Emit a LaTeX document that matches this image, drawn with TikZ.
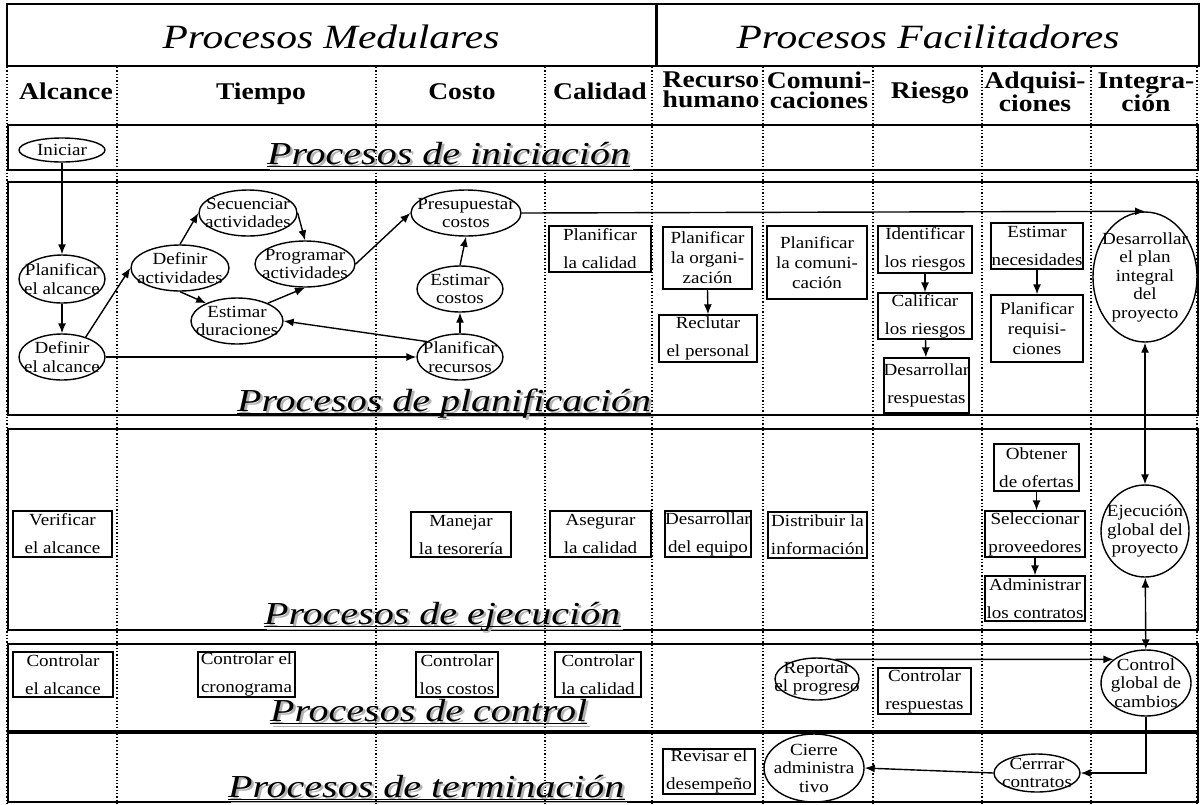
\documentclass[tikz,border=0pt]{standalone}
\usepackage{fontspec}
\setmainfont{Liberation Serif}
\newfontfamily\wideserif[FakeStretch=1.12]{Liberation Serif}
\newfontfamily\wideheads[FakeStretch=1.15]{Liberation Serif}
\newfontfamily\widetitle[FakeStretch=1.22]{Liberation Serif}
\newfontfamily\widephase[FakeStretch=1.25]{Liberation Serif}
\usetikzlibrary{shapes.geometric,arrows.meta,calc}

% a process: outline of fixed size (#3 x #4) at #2, its text laid over it
\newcommand\procell[5]{%
  \node[ellframe, minimum width=#3pt, minimum height=#4pt] (#1) at (#2) {};
  \node[elltxt] (#1-t) at (#1) {#5};}
\newcommand\procbox[5]{%
  \node[boxframe, minimum width=#3pt, minimum height=#4pt] (#1) at (#2) {};
  \node[boxtxt] (#1-t) at (#1) {#5};}
\newcommand\procboxiii[5]{%
  \node[boxframe, minimum width=#3pt, minimum height=#4pt] (#1) at (#2) {};
  \node[boxtxtiii] (#1-t) at (#1) {#5};}

\begin{document}
\begin{tikzpicture}[x=1pt,y=-1pt,
  ellframe/.style={draw, ellipse, line width=1.4pt, inner sep=0pt},
  boxframe/.style={draw, rectangle, line width=1.4pt, inner sep=0pt},
  elltxt/.style={inner sep=0pt, align=center, font=\wideserif\fontsize{17}{18.5}\selectfont},
  boxtxt/.style={inner sep=0pt, align=center, font=\wideserif\fontsize{17}{28}\selectfont},
  boxtxtiii/.style={inner sep=0pt, align=center, font=\wideserif\fontsize{17}{20}\selectfont},
  rowframe/.style={draw, line width=1.5pt},
  lane/.style={line width=1.3pt, dotted},
  arr/.style={line width=1.4pt, -{Latex[length=10pt,width=8pt]}},
  arrboth/.style={line width=1.4pt, {Latex[length=10pt,width=8pt]}-{Latex[length=10pt,width=8pt]}},
  head/.style={font=\wideheads\fontsize{24}{20}\selectfont\bfseries, inner sep=0pt, align=center},
  bigtitle/.style={font=\widetitle\fontsize{34}{34}\selectfont\itshape, inner sep=0pt},
  phase/.style={font=\widephase\fontsize{32}{32}\selectfont\itshape, inner sep=0pt, anchor=base west},
  phaseshadow/.style={phase, text=black!30},
  uline/.style={line width=1.4pt},
  ulineshadow/.style={line width=1.4pt, black!30}
]
\useasboundingbox (0,0) rectangle (1204,804);

% title bar
\draw[line width=1.5pt] (7,4) rectangle (1199,66);
\draw[line width=3pt] (656,4) -- (656,66);
\node[bigtitle, anchor=base] (tmed) at (331,48) {Procesos Medulares};
\node[bigtitle, anchor=base] (tfac) at (928,48) {Procesos Facilitadores};

% swim lanes
\foreach \lx in {7,117,376,545,652,763,873,982,1091,1197}
  \draw[lane] (\lx,67) -- (\lx,803);

% knowledge-area headings
\node[head, anchor=base] (hal) at (66,99) {Alcance};
\node[head, anchor=base] (hti) at (261,99) {Tiempo};
\node[head, anchor=base] (hco) at (462,99) {Costo};
\node[head, anchor=base] (hca) at (600,99) {Calidad};
\node[head, anchor=north] (hrh) at (711,72) {Recurso\\humano};
\node[head, anchor=north] (hcm) at (819,72) {Comuni-\\caciones};
\node[head, anchor=base] (hri) at (930,98) {Riesgo};
\node[head, anchor=north] (had) at (1035,72) {Adquisi-\\ciones};
\node[head, anchor=north] (hin) at (1146,73) {Integra-\\ción};

% process-group rows
\draw[rowframe] (8,125) rectangle (1198,170);
\draw[rowframe] (8,182) rectangle (1198,415);
\draw[rowframe] (8,429) rectangle (1198,630);
\draw[rowframe] (8,644) rectangle (1198,731);
\draw[rowframe] (8,733) rectangle (1198,802);

% row captions: grey drop shadow, then the underlined italic text
\foreach \nm/\px/\py/\txt in {pi/267/164/{Procesos de iniciación},
                             pp/237/411/{Procesos de planificación},
                             pe/264/624/{Procesos de ejecución},
                             pc/270/721/{Procesos de control},
                             pt/228/797/{Procesos de terminación}} {
  \node[phaseshadow] (\nm s) at (\px+2.5,\py+2.5) {\txt};
  \draw[ulineshadow] ($(\nm s.base west)+(0,3)$) -- ($(\nm s.base east)+(0,3)$);
  \node[phase] (\nm) at (\px,\py) {\txt};
  \draw[uline] ($(\nm.base west)+(0,2.5)$) -- ($(\nm.base east)+(0,2.5)$);
}

% initiation and planning
\procell{ini}{62,150}{86}{24}{Iniciar}
\procell{pa}{62,279}{86}{48}{Planificar\\el alcance}
\procell{da}{62,357}{86}{46}{Definir\\el alcance}
\procell{dact}{180,268}{98}{46}{Definir\\actividades}
\procell{sec}{248,213}{98}{46}{Secuenciar\\actividades}
\procell{prog}{305,264}{100}{46}{Programar\\actividades}
\procell{edur}{237,321}{92}{46}{Estimar\\duraciones}
\procell{pres}{466,213}{110}{46}{Presupuestar\\costos}
\procell{ecos}{460,289}{86}{46}{Estimar\\costos}
\procell{prec}{460,357}{86}{46}{Planificar\\recursos}
\procell{dplan}{1145,277}{104}{130}{Desarrollar\\el plan\\integral\\del\\proyecto}

\procbox{pcal}{600,249}{102}{46}{Planificar\\la calidad}
\procboxiii{porg}{707.5,258}{89}{62}{Planificar\\la organi-\\zación}
\procbox{recl}{708,338.5}{98}{47}{Reclutar\\el personal}
\procboxiii{pcom}{817,262.5}{100}{73}{Planificar\\la comuni-\\cación}
\procbox{iden}{925,249.5}{94}{47}{Identificar\\los riesgos}
\procbox{calif}{925,316}{94}{46}{Calificar\\los riesgos}
\procbox{desr}{926.5,385.5}{85}{55}{Desarrollar\\respuestas}
\procbox{enec}{1037,246}{92}{46}{Estimar\\necesidades}
\procboxiii{preq}{1037,328.5}{92}{67}{Planificar\\requisi-\\ciones}

% execution
\procbox{ver}{62.5,534}{99}{46}{Verificar\\el alcance}
\procbox{man}{461,534.5}{100}{45}{Manejar\\la tesorería}
\procbox{aseg}{600.5,534}{101}{46}{Asegurar\\la calidad}
\procbox{deq}{708,534}{86}{46}{Desarrollar\\del equipo}
\procbox{dist}{817.5,535}{99}{46}{Distribuir la\\información}
\procbox{obt}{1036.5,467.5}{85}{47}{Obtener\\de ofertas}
\procbox{sel}{1035,534}{100}{46}{Seleccionar\\proveedores}
\procbox{adm}{1035,598.5}{100}{45}{Administrar\\los contratos}
\procell{ejec}{1145,531}{88}{92}{Ejecución\\global del\\proyecto}

% control
\procbox{cal}{63,674.5}{100}{45}{Controlar\\el alcance}
\procbox{ccron}{246.5,674.5}{97}{45}{Controlar el\\cronograma}
\procbox{ccos}{457,674.5}{82}{45}{Controlar\\los costos}
\procbox{ccal}{598,674.5}{86}{45}{Controlar\\la calidad}
\procell{rep}{817,679}{84}{42}{Reportar\\el progreso}
\procbox{cresp}{924.5,691}{93}{46}{Controlar\\respuestas}
\procell{cgc}{1146,683}{90}{66}{Control\\global de\\cambios}

% closing
\procbox{rev}{709,771.5}{92}{45}{Revisar el\\desempeño}
\procell{cierre}{814,768}{100}{68}{Cierre\\administra\\tivo}
\procell{cerrar}{1037,773}{86}{38}{Cerrrar\\contratos}

% connectors
\draw[arr] (ini) -- (pa);
\draw[arr] (pa) -- (da);
\draw[arr] (da.40) -- (dact.west);
\draw[arr] (dact.north) -- (sec.west);
\draw[arr] (dact.south) -- (edur.150);
\draw[arr] (sec.east) -- (prog.north);
\draw[arr] (edur.30) -- (prog.south);
\draw[arr] (prog.east) -- (pres.west);
\draw[arr] (da.east) -- (prec.west);
\draw[arr] (prec.155) -- (edur.east);
\draw[arr] (prec.north) -- (ecos.south);
\draw[arr] (ecos.north) -- (pres.south);
\draw[arr] (pres.east) -- (dplan.north);
\draw[arr] (porg.south) -- (recl.north);
\draw[arr] (iden) -- (calif);
\draw[arr] (calif) -- (desr);
\draw[arr] (enec) -- (preq);
\draw[arrboth] (dplan) -- (ejec);
\draw[arr] (obt.south) -- (obt.south |- sel.north);
\draw[arr] (sel) -- (adm);
\draw[arrboth] (ejec) -- (cgc);
\draw[arr] (rep.47) -- (cgc.144);
\draw[arr] (cgc.south) |- (cerrar.east);
\draw[arr] (cerrar.west) -- (cierre.east);
\end{tikzpicture}
\end{document}
